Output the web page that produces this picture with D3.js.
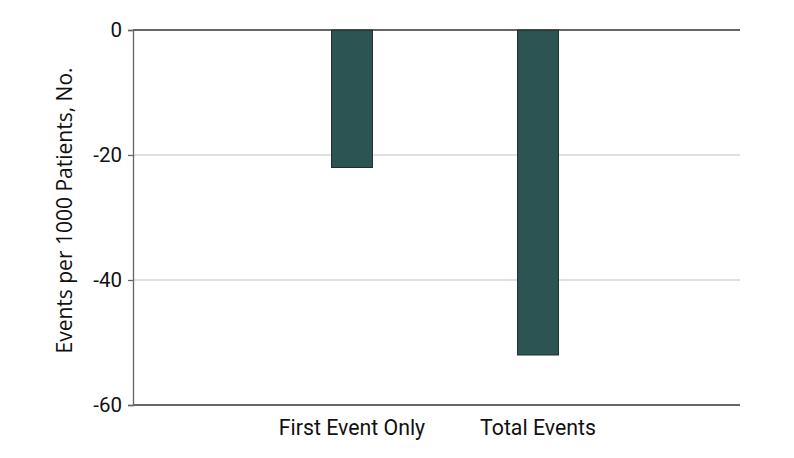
<!DOCTYPE html>
<html>
<head>
<meta charset="utf-8">
<script src="https://cdn.jsdelivr.net/npm/d3@7"></script>
<style>
  body { margin: 0; background: #fff; }
  svg text { fill: #111; }
</style>
</head>
<body>
<svg id="chart" width="794" height="458"></svg>
<script>
(function () {
    'use strict';

    const categories = ["First Event Only", "Total Events"];
    const values = [-22, -52];
    const yTicks = [0, -20, -40, -60];

    const WIDTH = 794, HEIGHT = 458;
    const margin = { top: 30, right: 54, bottom: 53, left: 133 };
    const plotW = WIDTH - margin.left - margin.right;
    const plotH = HEIGHT - margin.top - margin.bottom;
    const labelFont = "Roboto, 'Liberation Sans', sans-serif";

    const svg = d3.select("#chart");
    const g = svg.append("g").attr("transform", `translate(${margin.left},${margin.top})`);

    const y = d3.scaleLinear().domain([0, -60]).range([0, plotH]);

    // bands centred around the plot, bars are narrow
    const x = d3.scaleBand()
        .domain(categories)
        .range([126, 498])
        .paddingInner(0.78)
        .paddingOuter(0.39);

    // gridlines
    g.selectAll("line.grid")
        .data(yTicks.filter(d => d !== 0 && d !== -60))
        .join("line")
        .attr("x1", 0).attr("x2", plotW)
        .attr("y1", d => y(d)).attr("y2", d => y(d))
        .attr("stroke", "#d6d6d6").attr("stroke-width", 1.3);

    // bars
    g.selectAll("rect.bar")
        .data(values)
        .join("rect")
        .attr("x", (d, i) => x(categories[i]))
        .attr("width", x.bandwidth())
        .attr("y", d => y(Math.max(0, d)))
        .attr("height", d => Math.abs(y(d) - y(0)))
        .attr("fill", "#2c5452")
        .attr("stroke", "#1f2f2e").attr("stroke-width", 1);

    // top (zero) and bottom lines
    g.append("line").attr("x1", 0).attr("x2", plotW).attr("y1", y(0)).attr("y2", y(0))
        .attr("stroke", "#333").attr("stroke-width", 1.3);
    g.append("line").attr("x1", 0).attr("x2", plotW).attr("y1", y(-60)).attr("y2", y(-60))
        .attr("stroke", "#333").attr("stroke-width", 1.3);

    // y axis
    const yAxis = g.append("g")
        .call(d3.axisLeft(y).tickValues(yTicks).tickSize(5).tickPadding(6)
            .tickFormat(d => String(d)));
    yAxis.select(".domain").attr("stroke", "#666").attr("stroke-width", 1.3);
    yAxis.selectAll(".tick line").attr("stroke", "#666").attr("stroke-width", 1.3);
    yAxis.selectAll("text")
        .attr("font-family", labelFont)
        .attr("font-size", 20.5).attr("fill", "#111");

    // x labels
    const xAxis = g.append("g")
        .attr("transform", `translate(0,${plotH})`)
        .call(d3.axisBottom(x).tickSize(0).tickPadding(15));
    xAxis.select(".domain").remove();
    xAxis.selectAll("text")
        .attr("font-family", labelFont)
        .attr("font-size", 21.3).attr("fill", "#111");

    // y title
    svg.append("text")
        .attr("transform", `translate(72,${margin.top + plotH / 2 - 7}) rotate(-90)`)
        .attr("text-anchor", "middle")
        .attr("font-family", "'Open Sans', sans-serif")
        .attr("font-size", 21)
        .text("Events per 1000 Patients, No.");
})();
</script>
</body>
</html>
